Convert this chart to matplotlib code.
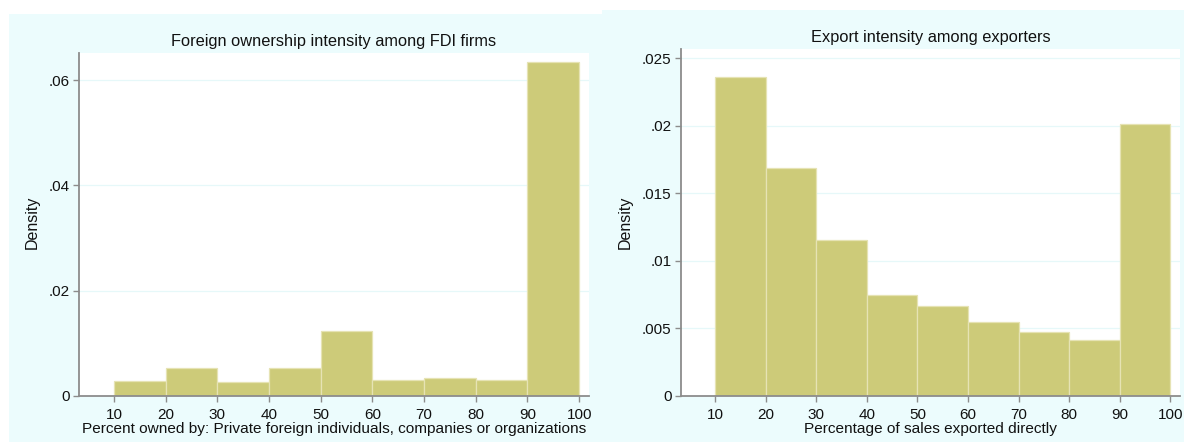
#!/usr/bin/env python3
"""Two density histograms: foreign ownership share and export share (Stata s2color look)."""

import matplotlib.pyplot as plt
from matplotlib.patches import Rectangle
from matplotlib.ticker import FixedLocator

# bin edges shared by both panels
BIN_EDGES = [10, 20, 30, 40, 50, 60, 70, 80, 90, 100]

# left panel: foreign ownership intensity among FDI firms
OWN_DENSITY = [0.0028, 0.0053, 0.0026, 0.0053, 0.0124, 0.0030, 0.0034, 0.0030, 0.0635]
OWN_TITLE = "Foreign ownership intensity among FDI firms"
OWN_XLABEL = "Percent owned by: Private foreign individuals, companies or organizations"
OWN_YTICKS = [0, 0.02, 0.04, 0.06]
OWN_YLABELS = ["0", ".02", ".04", ".06"]

# right panel: export intensity among exporters
EXP_DENSITY = [0.02364, 0.0169, 0.01154, 0.00744, 0.00662, 0.00546, 0.00469, 0.0041, 0.02013]
EXP_TITLE = "Export intensity among exporters"
EXP_XLABEL = "Percentage of sales exported directly"
EXP_YTICKS = [0, 0.005, 0.01, 0.015, 0.02, 0.025]
EXP_YLABELS = ["0", ".005", ".01", ".015", ".02", ".025"]

XTICKS = [10, 20, 30, 40, 50, 60, 70, 80, 90, 100]

BG = "#ecfcfd"
BAR = "#cdcb79"
BAR_EDGE = "#e6e3b4"
AXIS = "#8c8c8c"
GRID = "#e6f8f9"

plt.rcParams.update(
    {
        "font.family": ["Liberation Sans", "DejaVu Sans"],
        "font.size": 11,
    }
)

W, H = 1184, 445
fig = plt.figure(figsize=(W / 100, H / 100), dpi=100, facecolor="white")

# light cyan graph regions behind each panel
fig.patches.append(Rectangle((9 / W, 1 - 442 / H), (602 - 9) / W, (442 - 14) / H,
                             transform=fig.transFigure, facecolor=BG, edgecolor="none", zorder=-5))
fig.patches.append(Rectangle((602 / W, 1 - 442 / H), (W - 602) / W, (442 - 10) / H,
                             transform=fig.transFigure, facecolor=BG, edgecolor="none", zorder=-5))


def draw_panel(rect, density, title, xlabel, yticks, ylabels, ymax, ylabel_x):
    ax = fig.add_axes(rect, zorder=1)
    ax.set_facecolor("white")
    lefts = BIN_EDGES[:-1]
    widths = [b - a for a, b in zip(BIN_EDGES[:-1], BIN_EDGES[1:])]
    ax.bar(lefts, density, width=widths, align="edge", color=BAR,
           edgecolor=BAR_EDGE, linewidth=0.9, zorder=2)

    ax.set_xlim(3.23, 101.9)
    ax.set_ylim(0, ymax)
    ax.xaxis.set_major_locator(FixedLocator(XTICKS))
    ax.set_xticklabels([str(t) for t in XTICKS])
    ax.set_yticks(yticks)
    ax.set_yticklabels(ylabels)

    for y in yticks[1:]:
        ax.axhline(y, color=GRID, linewidth=0.9, zorder=1)

    for side in ("top", "right"):
        ax.spines[side].set_visible(False)
    for side in ("left", "bottom"):
        ax.spines[side].set_color(AXIS)
        ax.spines[side].set_linewidth(1.3)
        ax.spines[side].set_zorder(3)
    ax.tick_params(direction="out", length=4.5, width=1, color=AXIS,
                   labelcolor="#111111", labelsize=11)
    ax.tick_params(axis="x", pad=4)
    ax.tick_params(axis="y", pad=2)

    ax.set_title(title, fontsize=11.8, color="#111111", pad=5)
    ax.set_xlabel(xlabel, fontsize=11.1, color="#111111", labelpad=0)
    ax.set_ylabel("Density", fontsize=11.5, color="#111111")
    ax.yaxis.set_label_coords(ylabel_x, 1 - 222 / H, transform=fig.transFigure)
    return ax


draw_panel([79 / W, 1 - 395.7 / H, (589 - 79) / W, (395.7 - 53) / H],
           OWN_DENSITY, OWN_TITLE, OWN_XLABEL, OWN_YTICKS, OWN_YLABELS, 0.0652, 40 / W)
draw_panel([680.7 / W, 1 - 395.7 / H, (1180 - 680.7) / W, (395.7 - 48.5) / H],
           EXP_DENSITY, EXP_TITLE, EXP_XLABEL, EXP_YTICKS, EXP_YLABELS, 0.02573, 633 / W)

fig.savefig("out.png", dpi=100, facecolor="white")
